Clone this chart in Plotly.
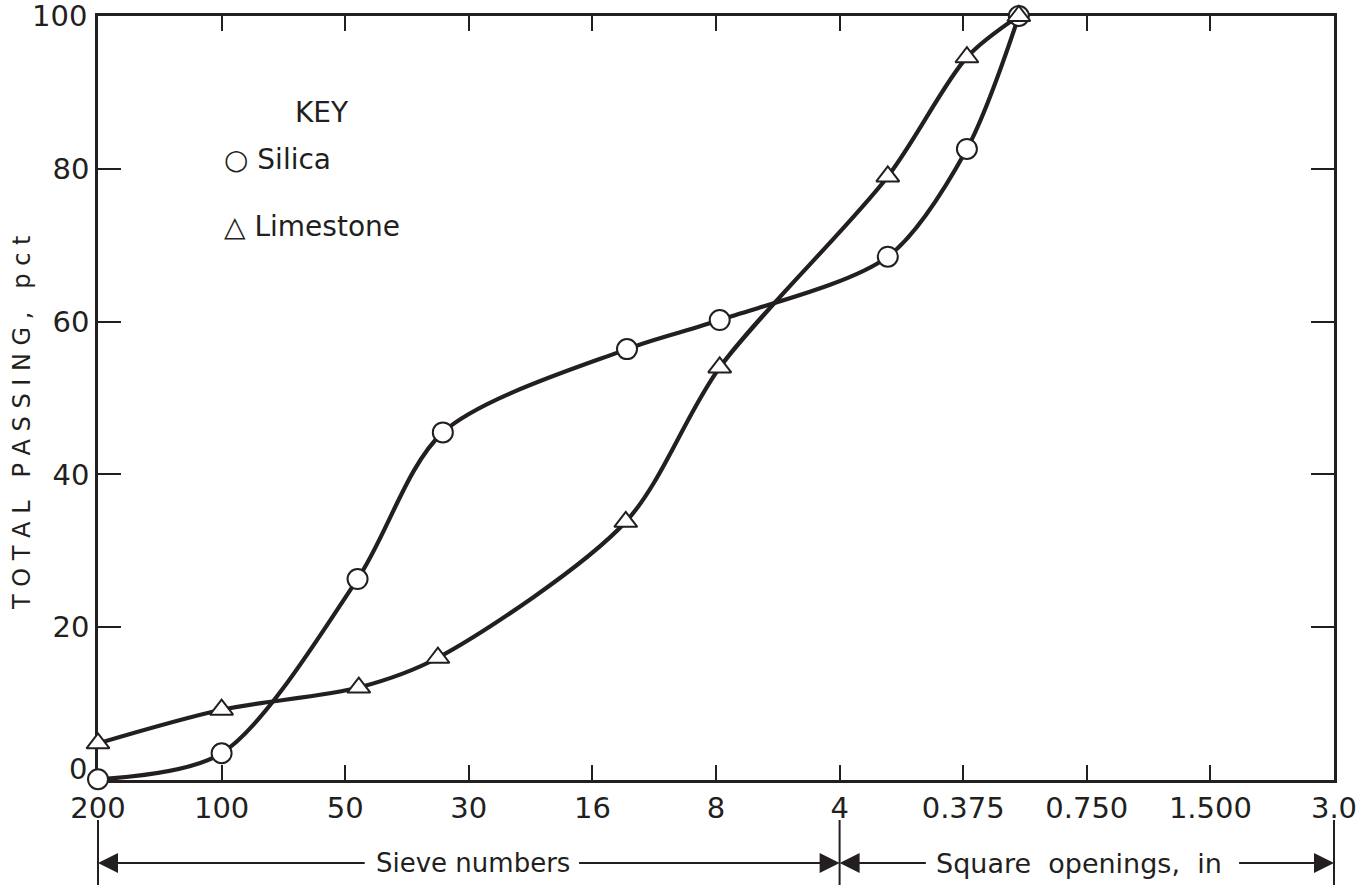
import plotly.graph_objects as go

# Sieve axis: equally spaced positions (log2 of opening size)
tick_pos = [0, 1, 2, 3, 4, 5, 6, 7, 8, 9, 10]
tick_labels = ["200", "100", "50", "30", "16", "8", "4", "0.375", "0.750", "1.500", "3.0"]
y_ticks = [0, 20, 40, 60, 80, 100]

silica_x = [0, 1, 2.10, 2.79, 4.28, 5.03, 6.39, 7.03, 7.45]
silica_y = [0.1, 3.5, 26.3, 45.5, 56.4, 60.2, 68.5, 82.6, 100]

lime_x = [0, 1, 2.11, 2.75, 4.27, 5.03, 6.39, 7.03, 7.45]
lime_y = [4.8, 9.2, 12.1, 16.0, 33.8, 54.0, 79.0, 94.6, 100]

INK = "#231f20"
FONT = "DejaVu Sans"
NB = "\u00a0"

W, H = 1371, 885
L, R, T, B = 98, 37, 16, 105
plot_w = W - L - R
plot_h = H - T - B


def py(pix):
    """pixel row -> paper y"""
    return (H - B - pix) / plot_h


def px(pix):
    return (pix - L) / plot_w


fig = go.Figure()
fig.add_trace(go.Scatter(
    x=silica_x, y=silica_y, mode="lines+markers", name="Silica",
    line=dict(color=INK, width=4.2, shape="spline", smoothing=0.85),
    marker=dict(symbol="circle", size=20, color="white", line=dict(color=INK, width=2)),
    cliponaxis=False, showlegend=False,
))
fig.add_trace(go.Scatter(
    x=lime_x, y=lime_y, mode="lines+markers", name="Limestone",
    line=dict(color=INK, width=4.2, shape="spline", smoothing=0.85),
    marker=dict(symbol="triangle-up", size=20, color="white", line=dict(color=INK, width=2)),
    cliponaxis=False, showlegend=False,
))

TICKFONT = dict(family=FONT, size=29, color=INK)
axis_common = dict(
    showgrid=False, zeroline=False, showline=True, linecolor=INK, linewidth=2.5,
    mirror="ticks", ticks="inside", tickcolor=INK, tickwidth=2,
    layer="below traces", tickfont=TICKFONT,
)

fig.update_xaxes(range=[tick_pos[0], tick_pos[-1]], tickvals=tick_pos, ticktext=tick_labels,
                 ticklen=15, **axis_common)
# end labels (0 raised above the x labels, 100 kept inside the page) are annotations
inner = [v for v in y_ticks if 0 < v < 100]
fig.update_yaxes(range=[0, 100], tickvals=y_ticks,
                 ticktext=[str(v) if v in inner else "" for v in y_ticks],
                 ticklen=23, **axis_common)

ann = []
shapes = []

ann.append(dict(text=str(y_ticks[-1]), x=px(89), y=y_ticks[-1], xref="paper", yref="y",
                xanchor="right", yanchor="middle", showarrow=False, font=TICKFONT))
ann.append(dict(text=str(y_ticks[0]), x=px(89), y=py(769), xref="paper", yref="paper",
                xanchor="right", yanchor="middle", showarrow=False, font=TICKFONT))

# y-axis title
ann.append(dict(text="T O T A L   P A S S I N G ,   p c t", textangle=-90,
                x=px(22), y=py(423), xref="paper", yref="paper", showarrow=False,
                xanchor="center", yanchor="middle",
                font=dict(family=FONT, size=24, color=INK)))

# Key
ann.append(dict(text="KEY", x=px(322), y=py(113), xref="paper", yref="paper", showarrow=False,
                xanchor="center", yanchor="middle",
                font=dict(family=FONT, size=28, color=INK)))
ann.append(dict(text="○ Silica", x=px(222), y=py(160), xref="paper", yref="paper",
                xanchor="left", yanchor="middle", showarrow=False,
                font=dict(family=FONT, size=28, color=INK)))
ann.append(dict(text="△ Limestone", x=px(222), y=py(226), xref="paper", yref="paper",
                xanchor="left", yanchor="middle", showarrow=False,
                font=dict(family=FONT, size=28, color=INK)))

# Bottom range brackets
y_line = py(863)
for xv in [tick_pos[0], tick_pos[6], tick_pos[-1]]:
    shapes.append(dict(type="line", xref="paper", yref="paper",
                       x0=xv / tick_pos[-1], x1=xv / tick_pos[-1], y0=py(820), y1=py(885),
                       line=dict(color=INK, width=2)))


def arrow(head, tail):
    ann.append(dict(x=head, ax=tail, xref="x", axref="x", y=y_line, yref="paper",
                    ay=0, ayref="pixel", text="", showarrow=True, arrowhead=2,
                    arrowsize=2, arrowwidth=2, arrowcolor=INK, standoff=0, startstandoff=0))


arrow(tick_pos[0], 2.17)
arrow(tick_pos[6], 3.88)
arrow(tick_pos[6], 6.71)
arrow(tick_pos[-1], 9.22)

ann.append(dict(text="Sieve numbers", x=3.03, xref="x", y=y_line, yref="paper", showarrow=False,
                xanchor="center", yanchor="middle",
                font=dict(family=FONT, size=26, color=INK)))
ann.append(dict(text="Square" + NB * 2 + "openings," + NB * 2 + "in", x=7.94, xref="x",
                y=y_line, yref="paper", showarrow=False, xanchor="center", yanchor="middle",
                font=dict(family=FONT, size=27, color=INK)))

fig.update_layout(
    width=W, height=H,
    margin=dict(l=L, r=R, t=T, b=B),
    paper_bgcolor="white", plot_bgcolor="white",
    annotations=ann, shapes=shapes,
)

fig.write_html("out.html")
